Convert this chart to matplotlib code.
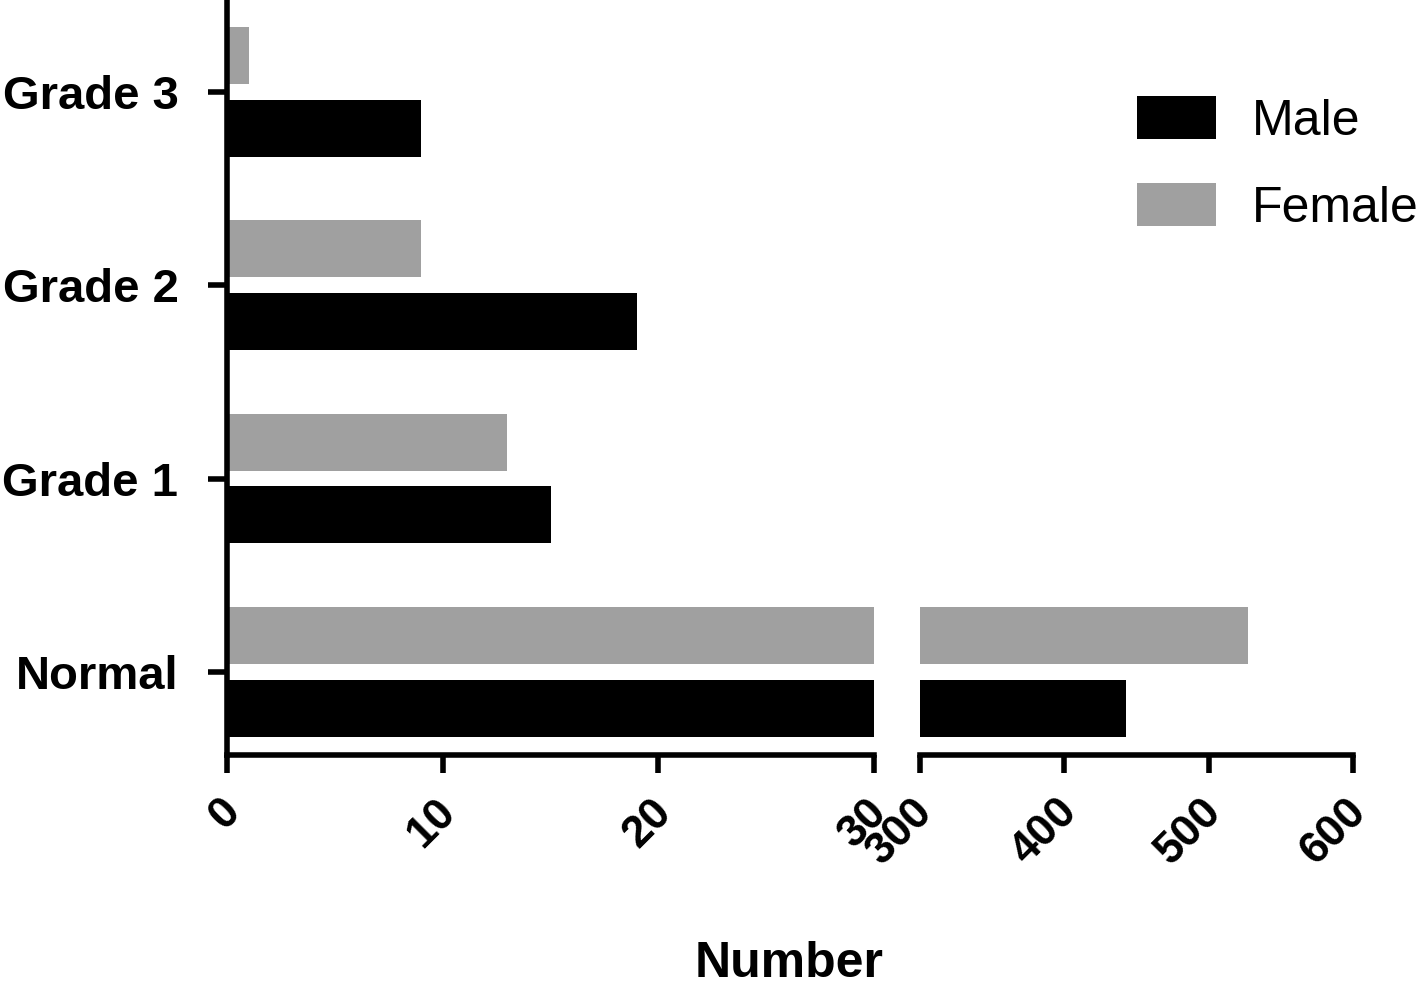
import matplotlib
matplotlib.use("Agg")
import matplotlib.pyplot as plt
import matplotlib.transforms as mtransforms
import numpy as np

plt.rcParams['font.family'] = ['Liberation Sans', 'DejaVu Sans']

categories = ['Normal', 'Grade 1', 'Grade 2', 'Grade 3']
male = [443, 15, 19, 9]
female = [527, 13, 9, 1]
left_ticks = [0, 10, 20, 30]
right_ticks = [300, 400, 500, 600]
series_names = ['Male', 'Female']
colors = ['#000000', '#a0a0a0']

W, H = 1418, 988
fig = plt.figure(figsize=(W / 100, H / 100), dpi=100)

def px_axes(x0, x1, ytop, ybot):
    return fig.add_axes([x0 / W, (H - ybot) / H, (x1 - x0) / W, (ybot - ytop) / H])

axL = px_axes(227, 874, 2, 755)
axR = px_axes(920, 1353, 2, 755)

y = np.arange(len(categories))
bar_h = 0.295
lw = 4

for ax in (axL, axR):
    ax.barh(y - 0.187, male, height=bar_h, color=colors[0], label=series_names[0])
    ax.barh(y + 0.189, female, height=bar_h, color=colors[1], label=series_names[1])
    ax.set_ylim(-0.429, 3.466)
    for s in ('top', 'right'):
        ax.spines[s].set_visible(False)
    ax.spines['bottom'].set_linewidth(lw)
    ax.spines['left'].set_linewidth(lw)
    ax.tick_params(axis='x', direction='out', length=13, width=lw, pad=13,
                   labelsize=32)
    ax.tick_params(axis='x', which='minor', direction='inout', length=22, width=lw)

axL.set_xlim(0, 30)
axL.set_xticks(left_ticks)
axL.set_xticks([30], minor=True)
axL.set_yticks(y)
axL.set_yticklabels(categories, fontsize=34, fontweight='bold')
axL.tick_params(axis='y', direction='out', length=14, width=lw, pad=21)

axR.set_xlim(300, 600)
axR.set_xticks(right_ticks)
axR.set_xticks([300], minor=True)
axR.spines['left'].set_visible(False)
axR.tick_params(axis='y', left=False, labelleft=False)

offset = mtransforms.ScaledTranslation(21 / 100, 0, fig.dpi_scale_trans)
for ax in (axL, axR):
    for lab in ax.get_xticklabels():
        lab.set_rotation(45)
        lab.set_ha('right')
        lab.set_va('top')
        lab.set_fontweight('bold')
        lab.set_transform(lab.get_transform() + offset)

fig.text(789 / W, (H - 977) / H, 'Number', ha='center', va='baseline',
         fontsize=36, fontweight='bold')

handles, labels = axL.get_legend_handles_labels()
fig.legend(handles, labels, loc='upper left',
           bbox_to_anchor=(1137 / W, (H - 96) / H), bbox_transform=fig.transFigure,
           frameon=False, fontsize=36, borderpad=0, borderaxespad=0,
           handlelength=1.58, handleheight=0.95, handletextpad=0.72,
           labelspacing=0.77)

fig.savefig('out.png', dpi=100)
